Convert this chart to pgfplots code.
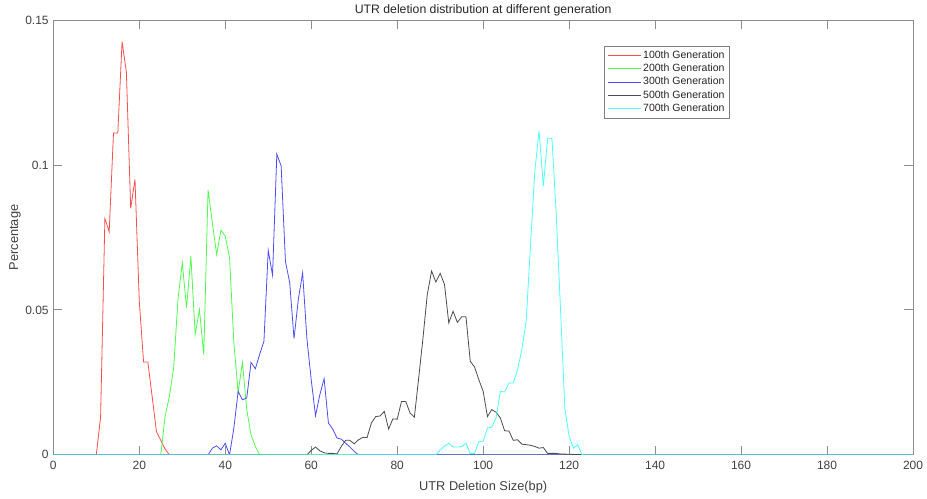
\documentclass[border=0pt]{standalone}
\usepackage{fontspec}
\setmainfont{Liberation Sans}
\usepackage{pgfplots}
\pgfplotsset{compat=1.18}
\definecolor{mred}{rgb}{1,0.3,0.3}
\definecolor{mgreen}{rgb}{0.3,1,0.3}
\definecolor{mblue}{rgb}{0.3,0.3,1}
\definecolor{mblack}{gray}{0.3}
\definecolor{mcyan}{rgb}{0.3,1,1}
\definecolor{axgray}{gray}{0.55}
\begin{document}
\begin{tikzpicture}
\begin{axis}[
  at={(0,0)}, anchor=south west,
  scale only axis, width=645pt, height=326.25pt,
  xmin=0, xmax=200, ymin=0, ymax=0.15,
  xtick={0,20,...,200},
  xticklabels={0,20,40,60,80,100,120,140,160,180,200},
  ytick={0,0.05,0.1,0.15},
  yticklabels={0,0.05,0.1,0.15},
  /pgf/number format/assume math mode=true,
  scaled y ticks=false,
  tick align=inside,
  tick pos=both,
  ticklabel pos=left,
  major tick length=6.4pt,
  axis line style={axgray, line width=0.6pt},
  every tick/.style={axgray, line width=0.6pt},
  tick label style={font=\fontsize{9}{10}\selectfont, text=black!75},
  xticklabel shift=1.5pt,
  title={UTR deletion distribution at different generation},
  every axis title/.style={at={(axis description cs:0.5,1.023)}, anchor=center, font=\fontsize{9.2}{10}\selectfont, text=black!85},
  xlabel={UTR Deletion Size(bp)},
  xlabel style={at={(axis description cs:0.5,-0.0736)}, anchor=center, font=\fontsize{9.6}{11}\selectfont, text=black!75},
  ylabel={Percentage},
  ylabel style={at={(axis description cs:-0.0445,0.5)}, anchor=center, font=\fontsize{9.6}{11}\selectfont, text=black!75},
  legend style={at={(rel axis cs:0.6406,0.941)}, anchor=north west, draw=black!50, line width=0.5pt,
    font=\fontsize{7.9}{9}\selectfont, inner sep=2pt, nodes={inner sep=1.4pt, text=black!85}},
  legend cell align=left,
  legend image code/.code={\draw[#1, line width=0.7pt] (0pt,0pt) -- (25pt,0pt);},
  every axis plot/.append style={line width=0.6pt, mark=none},
]
\addplot[mred] coordinates {
(0,0) (10,0) (11,0.013) (12,0.0815) (13,0.077) (14,0.111) (15,0.111) (16,0.1425) (17,0.132) (18,0.085) (19,0.095) (20,0.053) (21,0.032) (22,0.032) (23,0.02) (24,0.008) (25,0.005) (26,0.002) (27,0) (200,0)
};
\addlegendentry{100th Generation}
\addplot[mgreen] coordinates {
(0,0) (25,0) (26,0.0132) (27,0.0202) (28,0.030) (29,0.0536) (30,0.0663) (31,0.0507) (32,0.0685) (33,0.0415) (34,0.0501) (35,0.0346) (36,0.0914) (37,0.080) (38,0.0691) (39,0.0775) (40,0.0755) (41,0.068) (42,0.0387) (43,0.0215) (44,0.0319) (45,0.0156) (46,0.0069) (47,0.0029) (48,0) (200,0)
};
\addlegendentry{200th Generation}
\addplot[mblue] coordinates {
(0,0) (36,0) (37,0.0023) (38,0.0031) (39,0.0017) (40,0.004) (41,0) (42,0.0092) (43,0.0219) (44,0.019) (45,0.0196) (46,0.0319) (47,0.0297) (48,0.0346) (49,0.0392) (50,0.0705) (51,0.062) (52,0.1037) (53,0.0997) (54,0.0668) (55,0.0593) (56,0.0401) (57,0.0536) (58,0.0628) (59,0.040) (60,0.0259) (61,0.0135) (62,0.0207) (63,0.0263) (64,0.011) (65,0.0089) (66,0.0058) (67,0.0054) (68,0.004) (69,0.0027) (70,0.0012) (71,0) (200,0)
};
\addlegendentry{300th Generation}
\addplot[mblack] coordinates {
(0,0) (59,0) (60,0.0015) (61,0.0027) (62,0.0014) (63,0.0007) (64,0.0005) (65,0.0005) (66,0.0003) (67,0.0029) (68,0.005) (69,0.005) (70,0.0038) (71,0.0052) (72,0.006) (73,0.006) (74,0.011) (75,0.0132) (76,0.0134) (77,0.015) (78,0.0089) (79,0.0124) (80,0.0123) (81,0.0184) (82,0.0184) (83,0.0144) (84,0.013) (85,0.0265) (86,0.0403) (87,0.0553) (88,0.0634) (89,0.0596) (90,0.0626) (91,0.0588) (92,0.0455) (93,0.0495) (94,0.0457) (95,0.0476) (96,0.0476) (97,0.0323) (98,0.0303) (99,0.0259) (100,0.0219) (101,0.0132) (102,0.0156) (103,0.0147) (104,0.0127) (105,0.0083) (106,0.0082) (107,0.005) (108,0.0052) (109,0.0037) (110,0.0035) (111,0.0033) (112,0.0029) (113,0.0023) (114,0.0025) (115,0.0005) (116,0.0005) (117,0.0005) (118,0.0003) (124,0) (200,0)
};
\addlegendentry{500th Generation}
\addplot[mcyan] coordinates {
(0,0) (89,0) (90,0.0017) (91,0.003) (92,0.004) (93,0.0027) (94,0.0027) (95,0.0028) (96,0.004) (97,0.0005) (98,0.0005) (99,0.0046) (100,0.0047) (101,0.0092) (102,0.0096) (103,0.0127) (104,0.0219) (105,0.0217) (106,0.0248) (107,0.0248) (108,0.0294) (109,0.0363) (110,0.046) (111,0.072) (112,0.0974) (113,0.1118) (114,0.0927) (115,0.1092) (116,0.1092) (117,0.083) (118,0.05) (119,0.016) (120,0.0063) (121,0.0023) (122,0.0035) (123,0) (200,0)
};
\addlegendentry{700th Generation}
\end{axis}
\pgfresetboundingbox
\path[use as bounding box] (-40pt,-33pt) rectangle (655.5pt,341.25pt);
\end{tikzpicture}
\end{document}
